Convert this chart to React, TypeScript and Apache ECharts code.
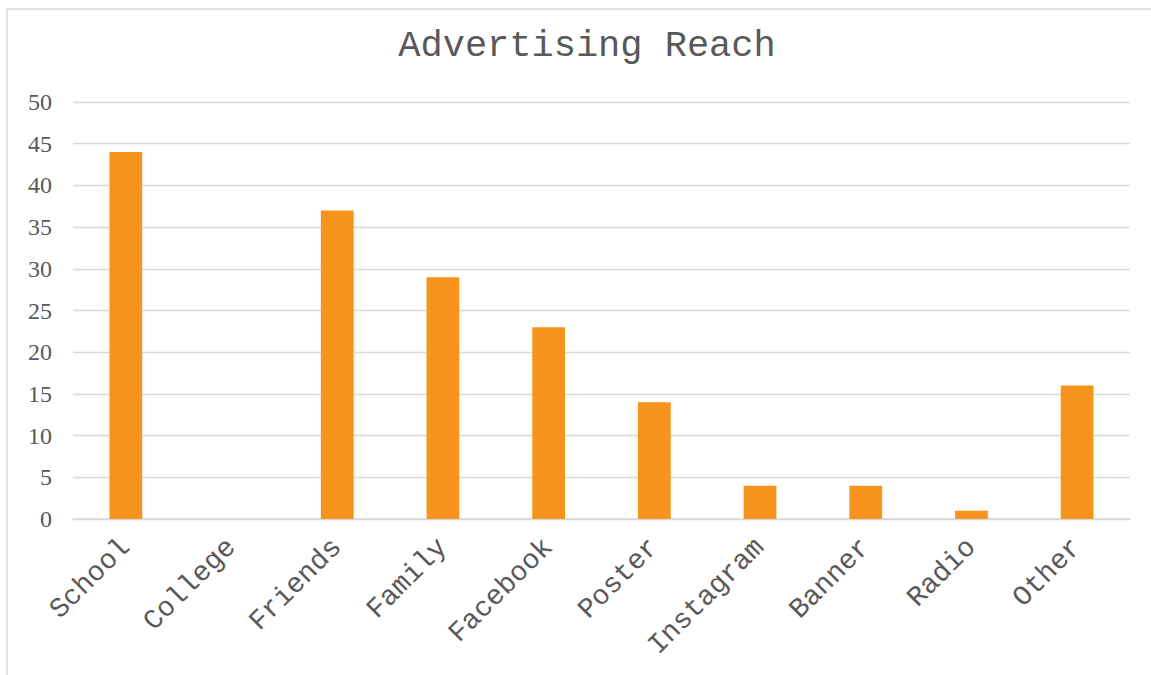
import React, { useEffect, useRef } from "react";
import * as echarts from "echarts";

const categories = ["School", "College", "Friends", "Family", "Facebook", "Poster", "Instagram", "Banner", "Radio", "Other"];
const reachValues = [44, 0, 37, 29, 23, 14, 4, 4, 1, 16];
const yTicks = { min: 0, max: 50, interval: 5 };

export default function App() {
  const ref = useRef<HTMLDivElement>(null);
  useEffect(() => {
    if (!ref.current) return;
    const chart = echarts.init(ref.current, null, { renderer: "svg" });
    chart.setOption({
      animation: false,
      backgroundColor: "#ffffff",
      title: {
        text: "Advertising Reach",
        left: 582,
        top: 22,
        textAlign: "center",
        textStyle: {
          fontFamily: "'Liberation Mono', 'Courier New', monospace",
          fontWeight: "normal",
          fontSize: 37,
          color: "#595959",
        },
      },
      graphic: [
        {
          type: "rect",
          shape: { x: 7, y: 9, width: 1300, height: 800 },
          style: { fill: "none", stroke: "#d9d9d9", lineWidth: 1.5 },
          silent: true,
        },
      ],
      grid: { left: 73, right: 21, top: 102, bottom: 156, containLabel: false },
      xAxis: {
        type: "category",
        data: categories,
        axisLine: { show: true, lineStyle: { color: "#d9d9d9", width: 1.5 } },
        axisTick: { show: false },
        axisLabel: {
          rotate: 45,
          margin: 24,
          interval: 0,
          color: "#595959",
          fontSize: 28,
          fontFamily: "'Liberation Mono', 'Courier New', monospace",
        },
      },
      yAxis: {
        type: "value",
        min: yTicks.min,
        max: yTicks.max,
        interval: yTicks.interval,
        axisLine: { show: false },
        axisTick: { show: false },
        splitLine: { lineStyle: { color: "#d9d9d9", width: 1.3 } },
        axisLabel: {
          margin: 21,
          color: "#595959",
          fontSize: 24,
          fontFamily: "'Liberation Serif', 'Times New Roman', serif",
        },
      },
      series: [
        {
          type: "bar",
          data: reachValues,
          barWidth: "31%",
          itemStyle: { color: "#F7941D" },
        },
      ],
    });
    return () => chart.dispose();
  }, []);
  return (
    <div
      ref={ref}
      style={{ position: "fixed", left: 0, top: 0, width: 1151, height: 675 }}
    />
  );
}
